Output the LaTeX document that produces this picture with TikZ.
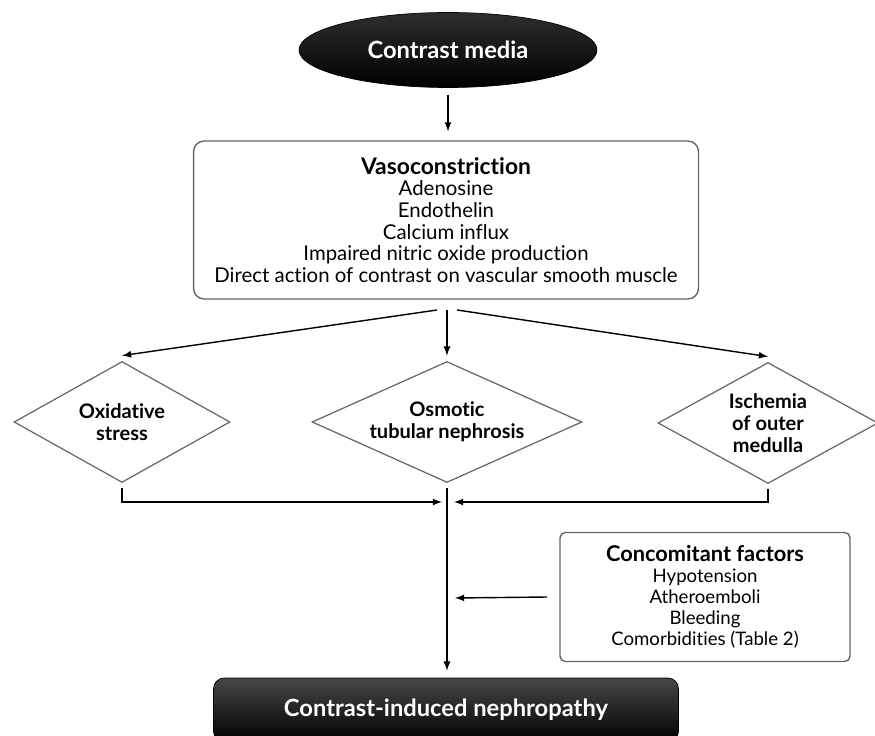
\documentclass[tikz,border=0pt]{standalone}
\usepackage{fontspec}
\setmainfont{Lato}[Ligatures=NoCommon]
\usepackage{tikz}
\usetikzlibrary{calc, shapes.geometric, positioning}

\begin{document}
\begin{tikzpicture}[>=latex, x=0.02cm, y=-0.02cm,
    darkshape/.style={draw=black, top color=black!72, bottom color=black,
        text=white, font=\fontsize{13.5}{15}\selectfont\bfseries},
    infobox/.style={draw=black!60, line width=0.8pt, rounded corners=6pt,
        align=center, font=\fontsize{11.6}{12.3}\selectfont},
    decision/.style={diamond, draw=black!60, line width=0.7pt, inner sep=-2pt,
        align=center, font=\fontsize{11.4}{12.6}\selectfont\bfseries},
    flow/.style={->, line width=0.8pt}]
    % Page frame of the reference (875 x 736 px)
    \useasboundingbox (0,0) rectangle (875,736);

    % 1. Dark oval at the top
    \node[darkshape, ellipse, top color=black!82, minimum width=5.96cm,
        minimum height=1.5cm] (media) at (448,50) {Contrast media};

    % 2. Vasoconstriction box
    \node[infobox, minimum width=10.1cm, minimum height=3.16cm] (vaso) at (446,220)
        {{\fontsize{13}{12.3}\selectfont\bfseries Vasoconstriction}\\
         Adenosine\\Endothelin\\Calcium influx\\
         Impaired nitric oxide production\\
         Direct action of contrast on vascular smooth muscle};

    % 3. The three diamonds
    \node[decision, shape aspect=1.8, minimum width=4.32cm, minimum height=2.42cm]
        (oxid) at (122,422) {Oxidative\\stress};
    \node[decision, shape aspect=2.23, minimum width=5.4cm, minimum height=2.42cm]
        (osmo) at (447,422) {Osmotic\\tubular nephrosis};
    \node[decision, shape aspect=1.8, minimum width=4.4cm, minimum height=2.42cm]
        (isch) at (768,423) {Ischemia\\of outer\\medulla};

    % 4. Concomitant factors box
    \node[infobox, rounded corners=3pt, minimum width=5.8cm, minimum height=2.58cm,
        font=\fontsize{10.6}{12}\selectfont] (conc) at (705,597)
        {{\fontsize{12.4}{12}\selectfont\bfseries Concomitant factors}\\
         Hypotension\\Atheroemboli\\Bleeding\\Comorbidities (Table 2)};

    % 5. Dark box at the bottom
    \node[darkshape, rounded corners=6pt, minimum width=9.3cm, minimum height=1.28cm]
        (cin) at (446,710) {Contrast-induced nephropathy};

    % 6. Free ends of the connectors
    \coordinate (splitL) at (437,310);
    \coordinate (splitM) at (447,310);
    \coordinate (splitR) at (457,310);
    \coordinate (joinL) at (442,502);
    \coordinate (joinR) at (454,502);
    \coordinate (joinC) at (455,598);

    % 7. Connectors
    \draw[flow] ([yshift=-4pt]media.south) -- ([yshift=5pt]media.south |- vaso.north);
    \draw[flow] (splitL) -- ([yshift=3pt]oxid.north);
    \draw[flow] (splitM) -- ([yshift=3pt]osmo.north);
    \draw[flow] (splitR) -- ([yshift=3pt]isch.north);
    \draw[flow] ([yshift=-3pt]oxid.south) |- (joinL);
    \draw[flow] ([yshift=-3pt]isch.south) |- (joinR);
    \draw[flow] ([yshift=-3pt]osmo.south) -- ([yshift=4pt]osmo.south |- cin.north);
    \draw[flow] ([xshift=-7pt]conc.west) -- (joinC);
\end{tikzpicture}
\end{document}
